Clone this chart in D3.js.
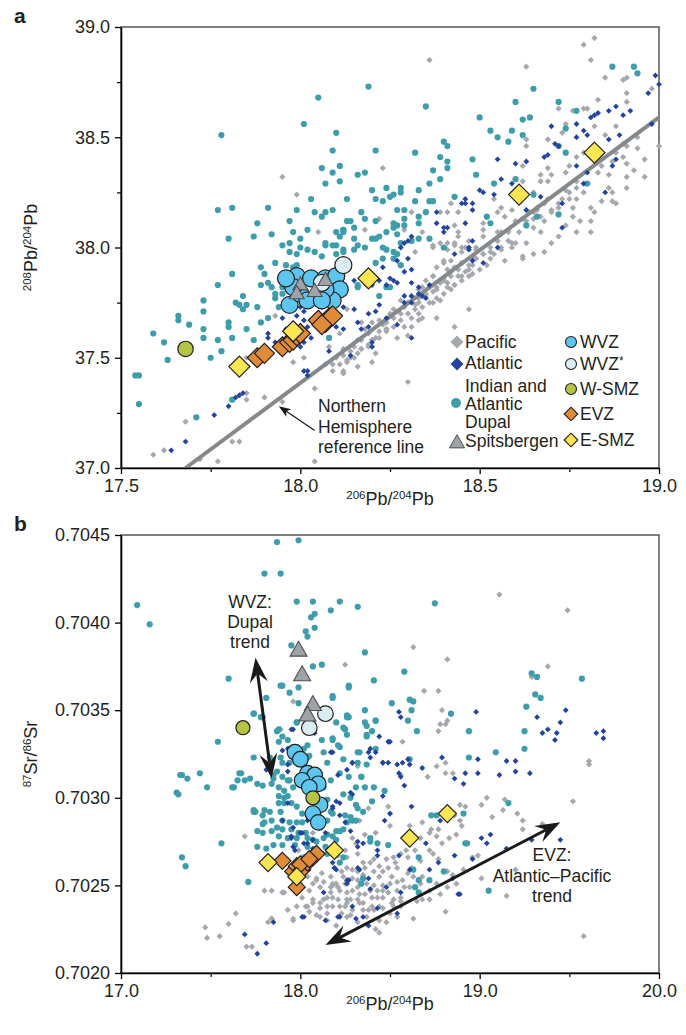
<!DOCTYPE html>
<html>
<head>
<meta charset="utf-8">
<title>Pb and Sr isotopes</title>
<style>
body { margin: 0; background: #fff; }
svg text { font-family: "Liberation Sans", Arial, Helvetica, sans-serif; fill: #231f20; }
</style>
</head>
<body>
<div id="chart"></div>
<script src="https://cdnjs.cloudflare.com/ajax/libs/d3/7.8.5/d3.min.js"></script>
<script>
// ---------- panel a : 206Pb/204Pb vs 208Pb/204Pb ----------
var xTicksA = [17.5, 18.0, 18.5, 19.0];
var xMinorA = [17.75, 18.25, 18.75];
var yTicksA = [37.0, 37.5, 38.0, 38.5, 39.0];
var yMinorA = [37.25, 37.75, 38.25, 38.75];
var refLineA = [[17.68, 37.00], [19.00, 38.59]];

var pacificA = [[18.82,38.95],[18.79,38.92],[18.81,38.85],[18.36,38.85],[18.63,38.82],[18.85,38.77],[18.90,38.76],[18.91,38.77],[18.91,38.70],[18.98,38.72],[18.83,38.67],[18.91,38.66],[18.76,38.62],[18.79,38.63],[18.80,38.63],[18.72,38.63],[18.74,38.56],[18.73,38.52],[18.82,38.55],[18.85,38.51],[18.63,38.49],[18.63,38.46],[18.69,38.49],[18.79,38.43],[18.77,38.41],[18.90,38.47],[18.91,38.46],[18.90,38.41],[18.94,38.45],[19.00,38.46],[18.91,38.38],[18.96,38.32],[18.91,38.32],[18.91,38.27],[18.75,38.37],[18.74,38.34],[18.69,38.36],[18.70,38.33],[18.67,38.33],[18.67,38.30],[18.62,38.37],[18.69,38.30],[18.65,38.25],[18.62,38.30],[18.77,38.30],[18.74,38.26],[18.75,38.22],[18.77,38.22],[18.79,38.25],[18.87,38.25],[18.87,38.21],[18.88,38.20],[18.86,38.33],[18.87,38.39],[18.81,38.18],[18.82,38.16],[18.81,38.12],[18.81,38.07],[18.76,38.18],[18.76,38.14],[18.72,38.20],[18.70,38.17],[18.65,38.16],[18.66,38.18],[18.68,38.20],[18.65,38.13],[18.67,38.14],[18.63,38.12],[18.60,38.12],[18.59,38.17],[18.56,38.18],[18.57,38.14],[18.55,38.16],[18.54,38.22],[18.51,38.08],[18.51,38.05],[18.56,38.07],[18.55,38.07],[18.58,38.07],[18.59,38.00],[18.62,37.96],[18.67,38.07],[18.72,38.05],[18.77,38.07],[18.42,38.20],[18.44,38.16],[18.41,38.16],[18.39,38.16],[18.43,38.10],[18.45,38.00],[18.49,38.00],[18.43,38.02],[18.44,38.07],[18.51,38.11],[18.41,38.02],[18.37,38.01],[18.34,38.07],[18.32,37.98],[18.29,38.17],[18.31,38.16],[18.23,38.36],[18.18,38.08],[18.29,38.08],[18.22,38.13],
[18.60,38.02],[18.68,37.98],[18.62,37.95],[18.55,38.03],[18.51,37.97],[18.49,37.95],[18.47,37.92],[18.45,37.93],[18.44,37.90],[18.42,37.89],[18.40,37.86],[18.40,37.93],[18.39,37.84],[18.37,37.87],[18.36,37.82],[18.34,37.82],[18.33,37.81],[18.31,37.78],[18.30,37.75],[18.29,37.73],[18.27,37.71],[18.26,37.68],[18.24,37.66],[18.23,37.65],[18.24,37.63],[18.22,37.62],[18.21,37.59],[18.20,37.58],[18.19,37.56],[18.17,37.54],[18.16,37.52],[18.14,37.50],[18.13,37.48],[18.12,37.44],[18.12,37.51],[18.17,37.58],[18.24,37.62],[18.31,37.68],[18.33,37.70],[18.34,37.73],[18.36,37.75],[18.38,37.77],[18.40,37.79],[18.42,37.81],[18.43,37.83],[18.45,37.85],[18.47,37.87],[18.48,37.88],[18.50,37.90],[18.52,37.92],[18.47,37.72],[18.43,37.64],[18.38,37.68],[18.29,37.64],[18.30,37.60],[18.14,37.53],[18.21,37.52],[18.12,37.43],[18.65,37.97],
[18.35,37.79],[18.32,37.74],[18.28,37.70],[18.26,37.72],[18.35,37.85],[18.38,37.82],[18.41,37.84],[18.44,37.87],[18.46,37.89],[18.53,37.95],[18.56,37.99],[18.58,38.03],[18.28,37.76],[18.25,37.70],[18.22,37.67],[18.19,37.61],[18.18,37.63],[18.15,37.55],[18.10,37.50],[18.09,37.47],[18.20,37.66],[18.33,37.77],[18.37,37.80],[18.48,37.92],[18.53,37.98],[18.57,37.94],[18.63,38.02],[18.70,38.02],[18.74,38.10],[18.78,38.12],[18.84,38.21],[18.86,38.27],[18.93,38.35],[18.96,38.40],[18.94,38.50],[18.88,38.55],
[18.37,38.00],[18.39,38.02],[18.41,37.99],[18.43,38.01],[18.44,38.05],[18.45,37.98],[18.46,38.00],[18.47,38.03],[18.48,37.96],[18.49,37.99],[18.42,37.94],[18.40,37.94],[18.38,37.91],[18.41,37.90],[18.43,37.91],[18.45,37.93],[18.47,37.90],[18.45,37.87],[18.42,37.87],[18.40,37.85],[18.37,37.87],[18.36,37.82],[18.38,37.81],[18.41,37.82],[18.43,37.83],[18.35,37.78],[18.33,37.75],[18.37,37.75],[18.39,37.76],[18.32,37.72],[18.30,37.70],[18.28,37.67],[18.26,37.64],[18.24,37.63],[18.22,37.59],[18.33,37.67],[18.34,37.68],[18.31,37.64],[18.27,37.59],[18.20,37.58],[18.19,37.55],[18.17,37.54],[18.15,37.50],[18.13,37.49],[18.11,37.47],[18.09,37.44],[18.12,37.54],[18.16,37.58],
[18.51,37.97],[18.53,38.00],[18.55,38.03],[18.56,38.06],[18.58,38.08],[18.60,38.11],[18.62,38.13],[18.64,38.16],[18.66,38.17],[18.54,37.97],[18.56,38.00],[18.59,38.02],[18.61,38.07],[18.65,38.09],[18.68,38.12],[18.70,38.16],[18.73,38.22],[18.75,38.25],[18.79,38.29],[18.83,38.34],[18.84,38.37],[18.88,38.43],[18.72,38.18],[18.69,38.22],[18.77,38.27],
[17.95,37.30],[17.98,37.48],[18.07,37.47],[18.04,37.36],[18.04,37.03],[18.12,37.43],[18.01,37.50],[17.85,37.31],[17.85,37.34],[17.90,37.32],[17.83,37.12],[17.81,37.12],[17.77,37.03],[17.72,37.04],[17.68,37.21],[17.62,37.08],[17.59,37.06],[17.85,37.50],[18.16,37.46],[18.20,37.48],[18.30,37.39],[18.11,37.61],[18.17,37.66],[18.08,37.55],
[17.95,38.32],[17.99,38.24],[18.05,38.07],[18.04,37.98],[17.93,37.69],[18.13,37.72]];

var atlanticA = [[18.99,38.78],[19.00,38.74],[18.97,38.70],[18.98,38.56],[18.81,38.59],[18.82,38.60],[18.83,38.61],[18.86,38.62],[18.88,38.64],[18.90,38.60],[18.92,38.62],[18.77,38.56],[18.79,38.53],[18.80,38.51],[18.70,38.55],[18.71,38.47],[18.72,38.46],[18.77,38.50],[18.89,38.51],[18.86,38.49],[18.68,38.41],[18.69,38.42],[18.77,38.37],[18.80,38.34],[18.79,38.29],[18.87,38.37],[18.88,38.40],[18.85,38.25],[18.60,38.38],[18.63,38.39],[18.55,38.40],[18.56,38.31],[18.59,38.29],[18.50,38.26],[18.54,38.24],[18.67,38.23],[18.63,38.17],[18.46,38.22],[18.46,38.20],[18.48,38.17],[18.51,38.25],[18.38,38.16],[18.73,38.20],[18.73,38.09],[18.55,38.00],[18.48,38.03],[18.47,38.00],[18.40,38.09],[18.38,38.11],[18.31,38.05],[18.30,38.03],[18.28,38.00],[18.43,37.97],
[18.45,38.20],[18.48,38.20],[18.46,38.11],[18.41,38.09],[18.40,38.07],[18.29,38.02],[18.30,37.95],[18.27,37.94],[18.23,37.91],[18.31,37.90],[18.25,37.86],[18.26,37.85],[18.27,37.84],[18.24,37.83],[18.22,37.85],[18.20,37.83],[18.15,37.85],[18.31,37.84],[18.33,37.82],[18.34,37.78],[18.35,37.77],[18.36,37.83],[18.31,37.78],[18.29,37.78],[18.29,37.75],[18.21,37.71],[18.22,37.74],[18.12,37.73],[18.15,37.72],[18.19,37.70],[18.19,37.64],[18.16,37.66],[18.12,37.63],[18.20,37.57],[18.14,37.51],[18.01,37.44],[18.10,37.64],
[18.00,37.73],[18.01,37.71],[17.99,37.69],[18.01,37.67],[18.02,37.64],[18.03,37.59],[18.01,37.57],[18.00,37.55],[17.91,37.61],[17.91,37.59],[17.93,37.57],[17.96,37.63],[17.95,37.68],[18.02,37.44],[18.02,37.42],[17.80,37.28],[17.82,37.32],[17.83,37.33],[17.84,37.34],[17.76,37.24],[17.68,37.12],[17.64,37.08],[17.99,37.64],[18.04,37.68],[18.06,37.73],
[18.47,37.99],[18.48,37.94],[18.51,37.93],[18.33,37.79],[18.31,37.75],[18.29,37.89],[18.20,37.86],[18.18,37.84],[18.27,37.65],[18.24,37.68],[18.31,37.59],[18.17,37.63],[18.20,37.55],[18.08,37.53]];

var dupalA = [[17.78,38.51],[18.05,38.68],[18.01,38.56],[18.10,38.52],[18.09,38.44],[18.06,38.36],[18.09,38.34],[18.11,38.37],[18.11,38.30],[18.07,38.29],[18.03,38.22],[18.13,38.22],[17.99,38.17],[18.04,38.16],[18.07,38.16],[18.09,38.17],[18.06,38.14],[18.13,38.12],[17.97,38.12],[18.02,38.08],[17.98,38.07],[18.10,38.07],[18.12,38.08],[17.88,38.11],[17.91,38.18],[17.81,38.18],[17.77,38.17],[17.80,38.04],[17.87,38.05],[17.92,38.06],[17.95,38.01],[17.97,38.02],[18.00,38.04],[18.00,38.00],[18.02,37.99],[18.04,37.98],[18.07,38.01],[18.09,38.01],[18.12,37.98],[17.97,37.98],[17.99,37.97],[18.06,37.96],[18.10,37.97],[17.93,37.93],[17.96,37.92],[17.98,37.91],[17.99,37.92],[17.89,37.91],[17.90,37.88],[17.81,37.88],[17.77,37.83],[17.89,37.83],[17.91,37.84],[17.92,37.82],[17.95,37.82],[17.97,37.82],[17.93,37.79],[17.95,37.79],[17.84,37.78],[17.82,37.75],[17.83,37.74],[17.85,37.74],[17.84,37.72],[17.88,37.73],[17.93,37.77],[17.94,37.73],[17.73,37.76],[17.73,37.71],[17.69,37.65],[17.80,37.66],[17.91,37.68],[17.66,37.69],[17.66,37.67],[17.59,37.61],[17.62,37.57],[17.63,37.49],[17.54,37.42],[17.55,37.42],[17.55,37.29],[17.71,37.23],[17.73,37.63],[17.73,37.59],[17.77,37.58],[17.80,37.64],[17.81,37.59],[17.85,37.63],[17.75,37.50],[17.78,37.53],[17.87,37.58],[17.89,37.66],[17.81,37.31],
[18.19,38.73],[18.35,38.64],[18.21,38.44],[18.32,38.43],[18.40,38.48],[18.41,38.46],[18.39,38.41],[18.41,38.39],[18.41,38.36],[18.48,38.40],[18.37,38.35],[18.39,38.31],[18.49,38.33],[18.50,38.59],[18.53,38.53],[18.55,38.50],[18.58,38.48],[18.59,38.53],[18.60,38.66],[18.62,38.58],[18.64,38.59],[18.65,38.72],[18.62,38.51],[18.72,38.66],[18.77,38.62],[18.74,38.54],[18.72,38.46],[18.74,38.43],[18.87,38.82],[18.93,38.82],[18.94,38.79],[18.80,38.29],[18.65,38.24],[18.60,38.31],[18.54,38.29],[18.52,38.14],[18.53,38.11],[18.63,38.10],[18.66,38.14],[18.72,38.15],[18.43,38.23],[18.36,38.29],[18.37,38.21],[18.36,38.21],[18.32,38.21],[18.33,38.26],[18.28,38.27],[18.26,38.24],[18.25,38.23],[18.24,38.27],[18.28,38.25],[18.21,38.22],[18.23,38.21],[18.20,38.26],[18.16,38.33],[18.18,38.34],[18.18,38.13],[18.21,38.12],[18.26,38.11],[18.29,38.13],[18.33,38.14],[18.33,38.11],[18.35,38.16],[18.27,38.17],[18.29,38.17],[18.26,38.09],[18.29,38.10],[18.21,38.04],[18.27,38.06],[18.23,38.00],[18.16,38.01],[18.12,38.08],[18.36,38.04],[18.40,38.00],
[18.14,38.12],[18.17,38.16],[18.15,38.09],[18.12,38.07],[18.11,38.05],[18.07,38.02],[18.10,38.01],[18.12,37.99],[18.15,37.99],[18.18,38.00],[18.20,38.04],[18.22,38.05],[18.24,38.07],[18.27,38.10],[18.24,37.99],[18.26,37.98],[18.23,37.95],[18.21,37.93],[18.26,37.95],[18.28,38.02],[18.31,38.03],[18.33,38.04],[18.28,37.92],[18.27,37.97],[18.22,37.78],[18.24,37.82],[18.15,38.04],[18.16,37.82],[18.08,37.59],[18.25,37.82],[18.16,37.83]];

var spitsbergenA = [[18.00,37.83],[17.99,37.79],[18.04,37.80],[18.07,37.85]];
var wvzA = [[17.99,37.87],[18.03,37.86],[18.07,37.86],[18.10,37.87],[18.11,37.81],[18.09,37.76],[17.97,37.74],[18.00,37.79],[18.05,37.78],[18.07,37.81],[17.98,37.82],[18.02,37.76],[18.06,37.76],[17.96,37.86]];
var wvzStarA = [[18.12,37.92],[18.06,37.84]];
var wSmzA = [[17.68,37.54]];
var evzA = [[17.88,37.50],[17.90,37.52],[17.95,37.55],[17.97,37.57],[17.98,37.58],[17.99,37.60],[18.00,37.61],[18.05,37.67],[18.07,37.66],[18.08,37.68],[18.09,37.69],[18.06,37.65]];
var eSmzA = [[17.83,37.46],[17.98,37.62],[18.19,37.86],[18.61,38.24],[18.82,38.43]];

// ---------- panel b : 206Pb/204Pb vs 87Sr/86Sr ----------
var xTicksB = [17.0, 18.0, 19.0, 20.0];
var xMinorB = [17.5, 18.5, 19.5];
var yTicksB = [0.7020, 0.7025, 0.7030, 0.7035, 0.7040, 0.7045];

var pacificB = [[17.69,0.70278],[17.64,0.70234],[17.60,0.70228],[17.55,0.70221],[17.47,0.70226],[17.48,0.70220],[17.70,0.70215],[17.73,0.70215],[17.80,0.70247],[17.84,0.70247],[17.90,0.70246],[17.82,0.70229],[17.84,0.70231],[17.96,0.70230],[18.04,0.70238],
[17.91,0.70246],[17.96,0.70231],[18.03,0.70238],[18.07,0.70242],[18.05,0.70235],[18.11,0.70237],[18.09,0.70233],[18.15,0.70234],[18.15,0.70230],[18.18,0.70238],[18.21,0.70242],[18.17,0.70246],[18.21,0.70249],[18.25,0.70251],[18.26,0.70246],[18.28,0.70242],[18.29,0.70247],[18.32,0.70249],[18.33,0.70245],[18.29,0.70254],[18.32,0.70258],[18.36,0.70260],[18.39,0.70263],[18.37,0.70251],[18.41,0.70250],[18.43,0.70247],[18.46,0.70250],[18.44,0.70255],[18.46,0.70258],[18.49,0.70260],[18.53,0.70263],[18.54,0.70260],[18.51,0.70255],[18.54,0.70252],[18.49,0.70246],[18.46,0.70243],[18.40,0.70243],[18.35,0.70240],[18.38,0.70236],[18.32,0.70242],[18.25,0.70238],[18.23,0.70234],[18.28,0.70233],[18.18,0.70251],[18.17,0.70255],[18.23,0.70258],[18.26,0.70260],[18.19,0.70260],[18.13,0.70252],[18.11,0.70249],[18.62,0.70260],[18.60,0.70257],[18.60,0.70266],[18.64,0.70270],[18.67,0.70264],[18.68,0.70255],[18.58,0.70249],[18.56,0.70243],[18.52,0.70238],[18.46,0.70237],[18.44,0.70230],[18.42,0.70225],[18.44,0.70223],[18.63,0.70231],[18.77,0.70282],[18.72,0.70280],[18.68,0.70286],[18.50,0.70284],[18.42,0.70280],[18.36,0.70279],[18.31,0.70274],[18.25,0.70270],[18.21,0.70267],[18.29,0.70277],[18.33,0.70287],[18.49,0.70295],[18.89,0.70296],[18.90,0.70284],[18.83,0.70277],[18.79,0.70274],[18.74,0.70268],[18.82,0.70258],[18.86,0.70290],[17.99,0.70270],[18.07,0.70280],
[18.11,0.70240],[18.07,0.70240],[18.15,0.70243],[18.18,0.70250],[18.22,0.70247],[18.09,0.70254],[18.12,0.70257],[18.07,0.70251],[18.27,0.70253],[18.26,0.70240],[17.84,0.70231],
[18.09,0.70253],[18.13,0.70242],[18.18,0.70243],[18.22,0.70238],[18.26,0.70242],[18.29,0.70236],[18.33,0.70240],[18.36,0.70245],[18.39,0.70247],[18.43,0.70243],[18.46,0.70247],[18.50,0.70251],[18.54,0.70247],[18.57,0.70253],[18.61,0.70249],[18.63,0.70255],[18.67,0.70251],[18.32,0.70253],[18.35,0.70256],[18.41,0.70258],[18.44,0.70261],[18.48,0.70265],[18.52,0.70266],[18.56,0.70268],[18.59,0.70270],[18.41,0.70265],[18.35,0.70263],[18.29,0.70259],[18.24,0.70255],[18.20,0.70251],[18.17,0.70249],[18.15,0.70238],[18.11,0.70232],[18.26,0.70232],[18.37,0.70232],[18.50,0.70234],[18.05,0.70247],[18.01,0.70243],[18.00,0.70251],[18.04,0.70255],[17.98,0.70238],[17.93,0.70236],[18.52,0.70242],[18.56,0.70238],[18.44,0.70238],[18.41,0.70236],[18.48,0.70229],[18.32,0.70229],[18.20,0.70227],[18.32,0.70268],[18.26,0.70266],[18.68,0.70242],[18.72,0.70247],[18.76,0.70251],
[19.52,0.70298],[19.58,0.70221],[19.35,0.70285],[19.24,0.70287],[19.24,0.70282],[19.21,0.70291],[19.13,0.70293],[19.14,0.70299],[19.04,0.70300],[19.01,0.70296],[19.07,0.70289],[18.92,0.70295],[18.89,0.70287],[18.87,0.70279],[18.96,0.70266],[18.99,0.70267],[18.91,0.70259],[18.85,0.70256],[18.82,0.70249],[18.78,0.70245],[18.87,0.70251],[19.01,0.70254],[19.15,0.70244],[19.20,0.70259],[18.77,0.70265],[18.72,0.70270],[18.76,0.70278],[18.73,0.70282],[18.35,0.70236],[18.40,0.70238],[18.51,0.70240],[18.56,0.70241],[18.65,0.70241],[18.72,0.70242],[18.81,0.70235],[18.38,0.70294],[18.50,0.70291],[18.61,0.70284],[18.67,0.70277],[18.54,0.70232],
[19.11,0.70416],[19.49,0.70407],[18.63,0.70386],[18.82,0.70379],[18.25,0.70376],[19.38,0.70375],[19.29,0.70369],[18.69,0.70361],[18.77,0.70361],[18.79,0.70350],[18.78,0.70342],[18.81,0.70342],[18.82,0.70344],[18.77,0.70338],[18.57,0.70332],[18.81,0.70320],[18.76,0.70318],[19.61,0.70321],[19.61,0.70319],[18.32,0.70318],[18.56,0.70313],[18.71,0.70312],[18.81,0.70314],[18.85,0.70314],[17.96,0.70355],[17.89,0.70339]];

var atlanticB = [[18.55,0.70349],[18.56,0.70346],[18.98,0.70349],[18.49,0.70332],[19.32,0.70346],[19.48,0.70350],[19.45,0.70343],[19.38,0.70339],[19.35,0.70337],[19.43,0.70337],[19.42,0.70333],[19.65,0.70337],[19.69,0.70338],[19.69,0.70334],[18.18,0.70326],[18.29,0.70320],[18.38,0.70326],[18.39,0.70328],[18.46,0.70320],[18.49,0.70320],[18.60,0.70322],[18.61,0.70319],[18.68,0.70317],[18.79,0.70323],[18.99,0.70322],[19.15,0.70321],[19.20,0.70321],[18.55,0.70314],[18.92,0.70314],[18.99,0.70314],[19.11,0.70313],[19.20,0.70315],[19.28,0.70314],[18.86,0.70311],
[18.91,0.70308],[18.20,0.70298],[18.29,0.70302],[18.47,0.70287],[18.62,0.70295],[18.78,0.70287],[19.01,0.70277],[19.04,0.70274],[19.06,0.70279],[19.15,0.70271],[19.29,0.70276],[19.45,0.70276],[18.33,0.70259],[18.27,0.70253],[18.39,0.70248],[18.56,0.70246],[18.54,0.70234],[18.35,0.70232],[18.32,0.70275],[18.43,0.70267],[18.55,0.70267],[18.61,0.70259],[18.72,0.70259],[18.88,0.70245],
[17.90,0.70287],[17.95,0.70278],[18.01,0.70280],[18.04,0.70274],[18.07,0.70271],[18.14,0.70280],[18.18,0.70295],[18.25,0.70286],[18.28,0.70281],[18.32,0.70272],[18.35,0.70274],[18.43,0.70270],[18.50,0.70291],[18.32,0.70260],[18.38,0.70254],[18.18,0.70263],[18.20,0.70259],[18.26,0.70253],[18.13,0.70246],[18.29,0.70238],[18.43,0.70237],[18.02,0.70232],[18.21,0.70232],[18.31,0.70231],[18.38,0.70227],[18.48,0.70249],[18.70,0.70274],[18.77,0.70263],[18.86,0.70267],[18.85,0.70254],[18.89,0.70245],[18.96,0.70265],
[17.95,0.70339],[17.90,0.70327],[18.17,0.70326],[17.93,0.70319],[17.93,0.70315],[18.21,0.70313],[18.22,0.70297],[18.28,0.70303],[18.18,0.70294],[18.22,0.70290],[18.44,0.70335],[18.50,0.70332],[18.42,0.70326],[18.39,0.70323],[18.46,0.70320],[18.54,0.70319],[18.57,0.70320],[18.56,0.70312],[18.58,0.70307],[18.29,0.70320],[18.26,0.70316],[18.46,0.70301],[17.96,0.70283],[18.00,0.70280],[18.02,0.70274],[18.07,0.70276],[17.95,0.70277],[17.97,0.70270],[17.81,0.70316],
[17.96,0.70339],[18.08,0.70337],[17.93,0.70328],[17.69,0.70222],[17.81,0.70217],[17.76,0.70211],[17.85,0.70229],[18.01,0.70232],[18.14,0.70230],[18.22,0.70232],[17.93,0.70297],[17.96,0.70272],[18.04,0.70287],[18.19,0.70260],[18.26,0.70251]];

var dupalB = [[17.09,0.70410],[17.16,0.70399],[17.87,0.70446],[17.99,0.70447],[17.80,0.70428],[17.89,0.70428],[17.98,0.70412],[18.07,0.70412],[18.22,0.70412],[18.17,0.70407],[18.08,0.70405],[18.06,0.70403],[18.08,0.70397],[18.03,0.70395],[18.04,0.70392],[17.95,0.70387],[18.07,0.70375],[18.12,0.70376],[17.60,0.70368],[17.89,0.70364],[17.94,0.70360],[17.81,0.70357],[17.99,0.70363],[17.74,0.70348],[17.78,0.70346],[17.88,0.70339],[17.98,0.70343],[17.93,0.70333],[17.54,0.70332],[17.74,0.70323],[17.34,0.70313],[17.44,0.70314],[17.66,0.70314],[17.89,0.70323],[18.02,0.70328],[18.04,0.70323],[18.18,0.70333],[18.22,0.70329],[18.25,0.70339],[18.27,0.70346],[18.27,0.70364],[18.18,0.70357],
[18.32,0.70409],[18.75,0.70411],[18.36,0.70383],[18.58,0.70372],[18.41,0.70367],[18.27,0.70363],[18.51,0.70354],[18.61,0.70356],[18.63,0.70355],[18.62,0.70350],[18.36,0.70350],[18.26,0.70346],[18.60,0.70344],[18.42,0.70344],[18.37,0.70341],[18.40,0.70338],[18.37,0.70335],[18.65,0.70338],[18.84,0.70348],[18.94,0.70338],[18.21,0.70330],[18.42,0.70328],[18.33,0.70326],[18.37,0.70319],[18.61,0.70322],[18.94,0.70323],[19.09,0.70326],[19.29,0.70371],[19.32,0.70369],[19.31,0.70359],[19.34,0.70357],[19.26,0.70352],[19.25,0.70338],[19.25,0.70328],[19.57,0.70368],
[18.22,0.70314],[18.34,0.70312],[18.40,0.70298],[18.41,0.70306],[18.47,0.70304],[18.22,0.70281],[18.28,0.70289],[18.31,0.70287],[18.20,0.70276],[18.39,0.70275],[18.49,0.70273],[18.66,0.70266],[18.63,0.70259],[18.66,0.70253],[18.64,0.70249],[18.76,0.70290],[18.73,0.70290],[18.91,0.70291],[18.93,0.70274],[19.05,0.70247],[19.16,0.70297],[18.31,0.70296],[18.24,0.70302],
[17.31,0.70303],[17.32,0.70302],[17.34,0.70266],[17.36,0.70261],[17.56,0.70274],[17.71,0.70252],[17.33,0.70313],[17.37,0.70311],[17.48,0.70306],[17.63,0.70306],[17.69,0.70310],[17.76,0.70308],[17.74,0.70293],[17.75,0.70292],[17.80,0.70293],[17.79,0.70285],[17.76,0.70281],[17.84,0.70281],[17.81,0.70271],[17.88,0.70297],[17.91,0.70300],[17.84,0.70308],[17.85,0.70313],[17.94,0.70310],[18.18,0.70291],[18.20,0.70281],[18.13,0.70277],[18.07,0.70276],[18.09,0.70271],[18.14,0.70272],[18.18,0.70278],[18.22,0.70263],[18.26,0.70286],
[17.90,0.70364],[18.18,0.70358],[17.99,0.70354],[17.74,0.70348],[17.79,0.70346],[17.98,0.70343],[18.26,0.70347],[18.20,0.70343],[18.24,0.70340],[18.36,0.70343],[18.42,0.70344],[17.87,0.70338],[17.90,0.70335],[17.88,0.70332],[17.94,0.70328],[18.04,0.70330],[18.12,0.70333],[18.18,0.70334],[18.26,0.70336],[18.37,0.70336],[17.83,0.70323],[17.90,0.70320],[17.94,0.70320],[18.05,0.70324],[18.13,0.70326],[18.15,0.70320],[18.24,0.70322],[18.32,0.70326],[18.32,0.70320],[17.67,0.70314],[17.72,0.70311],[17.65,0.70310],[17.62,0.70306],[17.87,0.70315],[17.85,0.70311],[17.90,0.70312],[17.93,0.70310],[17.79,0.70307],[17.88,0.70306],[17.91,0.70304],[17.96,0.70306],[18.13,0.70306],[18.17,0.70310],[18.27,0.70312],[18.34,0.70312],[18.31,0.70306],[18.36,0.70306],[17.88,0.70301],[17.93,0.70301],[17.91,0.70297],[17.95,0.70297],[17.98,0.70295],[18.01,0.70291],[17.89,0.70292],[17.83,0.70292],[17.79,0.70290],[17.74,0.70292],[17.80,0.70286],[17.84,0.70287],[17.90,0.70287],[17.94,0.70286],[17.98,0.70286],[18.01,0.70286],[17.87,0.70283],[17.90,0.70282],[17.95,0.70282],[17.99,0.70280],[18.03,0.70280],[17.88,0.70278],[17.93,0.70277],[17.98,0.70277],[18.04,0.70277],[17.79,0.70280],[17.76,0.70272],[17.85,0.70273],[17.90,0.70273],[17.97,0.70273],[18.04,0.70272],[18.09,0.70275],[18.15,0.70279],[18.11,0.70283],[18.15,0.70287],[18.24,0.70282],[18.25,0.70290],[18.29,0.70287],[18.32,0.70294],[18.35,0.70292],[18.28,0.70300],[18.15,0.70299],[18.17,0.70292],[18.09,0.70268],[18.15,0.70268],[18.07,0.70264],[18.02,0.70266],
[18.39,0.70277],[18.43,0.70274],[18.24,0.70266],[18.35,0.70254],[18.34,0.70251],[18.72,0.70253],[18.80,0.70258],[18.92,0.70274],[18.66,0.70246]];

var spitsbergenB = [[17.99,0.70384],[18.01,0.70370],[18.07,0.70353],[18.04,0.70347]];
var wvzB = [[17.97,0.70326],[18.00,0.70322],[18.04,0.70314],[18.08,0.70313],[18.01,0.70310],[18.10,0.70308],[18.05,0.70306],[18.11,0.70296],[18.07,0.70291],[18.10,0.70286]];
var wvzStarB = [[18.14,0.70348],[18.05,0.70340]];
var wSmzB = [[17.68,0.70340],[18.07,0.70300]];
var evzB = [[17.90,0.70264],[17.96,0.70258],[17.98,0.70261],[18.01,0.70259],[18.04,0.70263],[18.07,0.70266],[18.09,0.70268],[17.98,0.70249],[18.00,0.70262],[18.05,0.70265]];
var eSmzB = [[17.82,0.70263],[17.98,0.70255],[18.19,0.70270],[18.61,0.70277],[18.82,0.70291]];

// ---------- colours ----------
var cPac = "#a5a8ad", cAtl = "#22449c", cDup = "#3e9dab", cSpi = "#9ea3a8";
var cWvz = "#5cc6ef", cWvzS = "#dbecf2", cWsmz = "#b6c444", cEvz = "#e08b37", cEsmz = "#fbe550";
var cEdge = "#231f20";

var svg = d3.select("#chart").append("svg")
	.attr("width", 686)
	.attr("height", 1035);

function diamond(cx, cy, r) {
	return "M" + cx + "," + (cy - r) + "L" + (cx + r) + "," + cy + "L" + cx + "," + (cy + r) + "L" + (cx - r) + "," + cy + "Z";
}
function triangle(cx, cy, r) {
	return "M" + cx + "," + (cy - r * 1.1) + "L" + (cx + r) + "," + (cy + r * 0.65) + "L" + (cx - r) + "," + (cy + r * 0.65) + "Z";
}

// arrow line with swept heads at one or both ends
function arrow(g, x1, y1, x2, y2, w, len, half, notch, both) {
	var a = Math.atan2(y2 - y1, x2 - x1), c = Math.cos(a), s = Math.sin(a);
	function head(tx, ty, dir) {
		function pt(u, v) { return [tx + dir * (u * c - v * s), ty + dir * (u * s + v * c)]; }
		var p = [pt(0, 0), pt(-len, half), pt(-notch, 0), pt(-len, -half)];
		g.append("path").attr("d", "M" + p.join("L") + "Z").attr("fill", "#1a1a1a");
	}
	var sx = both ? x1 + notch * c : x1, sy = both ? y1 + notch * s : y1;
	g.append("line")
		.attr("x1", sx).attr("y1", sy)
		.attr("x2", x2 - notch * c).attr("y2", y2 - notch * s)
		.attr("stroke", "#1a1a1a").attr("stroke-width", w);
	head(x2, y2, 1);
	if (both) head(x1, y1, -1);
}

// isotope label with superscripts, e.g. [["206","Pb/"],["204","Pb"]]
function isoLabel(sel, parts, size) {
	parts.forEach(function(p) {
		sel.append("tspan").attr("font-size", size * 0.64).attr("dy", -size * 0.36).text(p[0]);
		sel.append("tspan").attr("font-size", size).attr("dy", size * 0.36).text(p[1]);
	});
}

var L = 121, R = 659;

function drawPanel(p) {
	var x = d3.scaleLinear().domain(p.xDomain).range([L, R]);
	var y = d3.scaleLinear().domain(p.yDomain).range([p.bottom, p.top]);
	var g = svg.append("g");

	g.append("rect")
		.attr("x", L).attr("y", p.top)
		.attr("width", R - L).attr("height", p.bottom - p.top)
		.attr("fill", "none").attr("stroke", "#4a4a4a").attr("stroke-width", 1.4);

	// background fields
	g.append("g").selectAll("path").data(p.pacific).join("path")
		.attr("d", function(d) { return diamond(x(d[0]), y(d[1]), 3.1); })
		.attr("fill", cPac);

	if (p.refLine) {
		g.append("line")
			.attr("x1", x(p.refLine[0][0])).attr("y1", y(p.refLine[0][1]))
			.attr("x2", x(p.refLine[1][0])).attr("y2", y(p.refLine[1][1]))
			.attr("stroke", "#86898c").attr("stroke-width", 4);
	}

	g.append("g").selectAll("circle").data(p.dupal).join("circle")
		.attr("cx", function(d) { return x(d[0]); })
		.attr("cy", function(d) { return y(d[1]); })
		.attr("r", 3.1).attr("fill", cDup);

	g.append("g").selectAll("path").data(p.atlantic).join("path")
		.attr("d", function(d) { return diamond(x(d[0]), y(d[1]), 2.9); })
		.attr("fill", cAtl);

	// volcanic zone samples
	g.append("g").selectAll("circle").data(p.wvz).join("circle")
		.attr("cx", function(d) { return x(d[0]); })
		.attr("cy", function(d) { return y(d[1]); })
		.attr("r", p.big).attr("fill", cWvz).attr("stroke", cEdge).attr("stroke-width", 1.2);

	g.append("g").selectAll("circle").data(p.wvzStar).join("circle")
		.attr("cx", function(d) { return x(d[0]); })
		.attr("cy", function(d) { return y(d[1]); })
		.attr("r", p.big).attr("fill", cWvzS).attr("stroke", cEdge).attr("stroke-width", 1.2);

	g.append("g").selectAll("path").data(p.spits).join("path")
		.attr("d", function(d) { return triangle(x(d[0]), y(d[1]), p.tri); })
		.attr("fill", cSpi).attr("stroke", "#4d4f52").attr("stroke-width", 1.1);

	g.append("g").selectAll("circle").data(p.wsmz).join("circle")
		.attr("cx", function(d) { return x(d[0]); })
		.attr("cy", function(d) { return y(d[1]); })
		.attr("r", p.big - 0.8).attr("fill", cWsmz).attr("stroke", cEdge).attr("stroke-width", 1.2);

	g.append("g").selectAll("path").data(p.evz).join("path")
		.attr("d", function(d) { return diamond(x(d[0]), y(d[1]), p.dia); })
		.attr("fill", cEvz).attr("stroke", cEdge).attr("stroke-width", 1.2);

	g.append("g").selectAll("path").data(p.esmz).join("path")
		.attr("d", function(d) { return diamond(x(d[0]), y(d[1]), p.dia + 0.5); })
		.attr("fill", cEsmz).attr("stroke", cEdge).attr("stroke-width", 1.2);

	// axes
	var xa = g.append("g").attr("transform", "translate(0," + p.bottom + ")")
		.call(d3.axisBottom(x).tickValues(p.xTicks).tickFormat(d3.format(p.xFmt))
			.tickSizeInner(6).tickSizeOuter(0).tickPadding(5));
	var ya = g.append("g").attr("transform", "translate(" + L + ",0)")
		.call(d3.axisLeft(y).tickValues(p.yTicks).tickFormat(d3.format(p.yFmt))
			.tickSizeInner(6).tickSizeOuter(0).tickPadding(5));
	[xa, ya].forEach(function(a) {
		a.select(".domain").attr("stroke", "#000").attr("stroke-width", 1.6);
		a.selectAll(".tick line").attr("stroke", "#000").attr("stroke-width", 1.3);
		a.selectAll(".tick text").attr("font-size", 18).attr("fill", "#231f20")
			.attr("font-family", '"Liberation Sans", Arial, sans-serif');
	});
	g.append("g").attr("transform", "translate(0," + p.bottom + ")")
		.call(d3.axisBottom(x).tickValues(p.xMinor).tickFormat("").tickSizeInner(4).tickSizeOuter(0))
		.call(function(a) { a.select(".domain").remove(); a.selectAll("line").attr("stroke", "#000").attr("stroke-width", 1.2); });
	if (p.yMinor) {
		g.append("g").attr("transform", "translate(" + L + ",0)")
			.call(d3.axisLeft(y).tickValues(p.yMinor).tickFormat("").tickSizeInner(4).tickSizeOuter(0))
			.call(function(a) { a.select(".domain").remove(); a.selectAll("line").attr("stroke", "#000").attr("stroke-width", 1.2); });
	}

	// titles
	var xt = g.append("text").attr("x", (L + R) / 2).attr("y", p.bottom + 37)
		.attr("text-anchor", "middle").attr("font-size", 18);
	isoLabel(xt, [["206", "Pb/"], ["204", "Pb"]], 18);
	var yt = g.append("text").attr("text-anchor", "middle").attr("font-size", 18)
		.attr("transform", "translate(37," + (p.top + p.bottom) / 2 + ") rotate(-90)");
	isoLabel(yt, p.yTitle, 18);

	g.append("text").attr("x", 14).attr("y", p.top - 4)
		.attr("font-size", 21).attr("font-weight", "bold").text(p.tag);

	return { g: g, x: x, y: y };
}

var pa = drawPanel({
	tag: "a", top: 27, bottom: 468,
	xDomain: [17.5, 19.0], yDomain: [37.0, 39.0],
	xTicks: xTicksA, xMinor: xMinorA, yTicks: yTicksA, yMinor: yMinorA,
	xFmt: ".1f", yFmt: ".1f",
	yTitle: [["208", "Pb/"], ["204", "Pb"]],
	pacific: pacificA, atlantic: atlanticA, dupal: dupalA, refLine: refLineA,
	wvz: wvzA, wvzStar: wvzStarA, spits: spitsbergenA, wsmz: wSmzA, evz: evzA, esmz: eSmzA,
	big: 8.5, dia: 10, tri: 7.5
});

var pb = drawPanel({
	tag: "b", top: 535, bottom: 973,
	xDomain: [17.0, 20.0], yDomain: [0.7020, 0.7045],
	xTicks: xTicksB, xMinor: xMinorB, yTicks: yTicksB, yMinor: null,
	xFmt: ".1f", yFmt: ".4f",
	yTitle: [["87", "Sr/"], ["86", "Sr"]],
	pacific: pacificB, atlantic: atlanticB, dupal: dupalB, refLine: null,
	wvz: wvzB, wvzStar: wvzStarB, spits: spitsbergenB, wsmz: wSmzB, evz: evzB, esmz: eSmzB,
	big: 7.8, dia: 8.5, tri: 8.5
});

// ---------- panel a annotation + legend ----------
var ga = pa.g;
arrow(ga, pa.x(18.04), pa.y(37.17), pa.x(17.94), pa.y(37.28), 1.3, 12, 4.5, 9, false);
["Northern", "Hemisphere", "reference line"].forEach(function(t, i) {
	ga.append("text").attr("x", 318).attr("y", 412 + i * 20.5).attr("font-size", 17.5).text(t);
});

var lg = ga.append("g");
lg.append("path").attr("d", diamond(457, 342, 6.5)).attr("fill", cPac);
lg.append("path").attr("d", diamond(457, 364, 6.5)).attr("fill", cAtl);
lg.append("circle").attr("cx", 456).attr("cy", 403).attr("r", 5).attr("fill", cDup);
lg.append("path").attr("d", triangle(457, 443, 7.5)).attr("fill", cSpi).attr("stroke", "#4d4f52").attr("stroke-width", 1);
[["Pacific", 348], ["Atlantic", 369], ["Indian and", 392], ["Atlantic", 410], ["Dupal", 428], ["Spitsbergen", 447]].forEach(function(t) {
	lg.append("text").attr("x", 465).attr("y", t[1]).attr("font-size", 17.5).text(t[0]);
});
lg.append("circle").attr("cx", 571).attr("cy", 342).attr("r", 5.5).attr("fill", cWvz).attr("stroke", cEdge).attr("stroke-width", 1.1);
lg.append("circle").attr("cx", 571).attr("cy", 364).attr("r", 5.5).attr("fill", cWvzS).attr("stroke", cEdge).attr("stroke-width", 1.1);
lg.append("circle").attr("cx", 571).attr("cy", 389).attr("r", 5.5).attr("fill", cWsmz).attr("stroke", cEdge).attr("stroke-width", 1.1);
lg.append("path").attr("d", diamond(571, 414, 6.8)).attr("fill", cEvz).attr("stroke", cEdge).attr("stroke-width", 1.1);
lg.append("path").attr("d", diamond(571, 440, 6.8)).attr("fill", cEsmz).attr("stroke", cEdge).attr("stroke-width", 1.1);
lg.append("text").attr("x", 580).attr("y", 348).attr("font-size", 17.5).text("WVZ");
var ws = lg.append("text").attr("x", 580).attr("y", 370).attr("font-size", 17.5).text("WVZ");
ws.append("tspan").attr("font-size", 12).attr("dy", -5).text("*");
lg.append("text").attr("x", 580).attr("y", 395).attr("font-size", 17.5).text("W-SMZ");
lg.append("text").attr("x", 580).attr("y", 420).attr("font-size", 17.5).text("EVZ");
lg.append("text").attr("x", 580).attr("y", 446).attr("font-size", 17.5).text("E-SMZ");

// ---------- panel b annotations ----------
var gb = pb.g;
arrow(gb, pb.x(17.75), pb.y(0.70380), pb.x(17.84), pb.y(0.70311), 3, 25, 9, 16, true);
arrow(gb, pb.x(18.14), pb.y(0.70216), pb.x(19.45), pb.y(0.70286), 3, 25, 9, 16, true);
["WVZ:", "Dupal", "trend"].forEach(function(t, i) {
	gb.append("text").attr("x", 250).attr("y", 608 + i * 20).attr("text-anchor", "middle").attr("font-size", 17.5).text(t);
});
["EVZ:", "Atlantic\u2013Pacific", "trend"].forEach(function(t, i) {
	gb.append("text").attr("x", 552).attr("y", 861 + i * 20.5).attr("text-anchor", "middle").attr("font-size", 17.5).text(t);
});
</script>
</body>
</html>
